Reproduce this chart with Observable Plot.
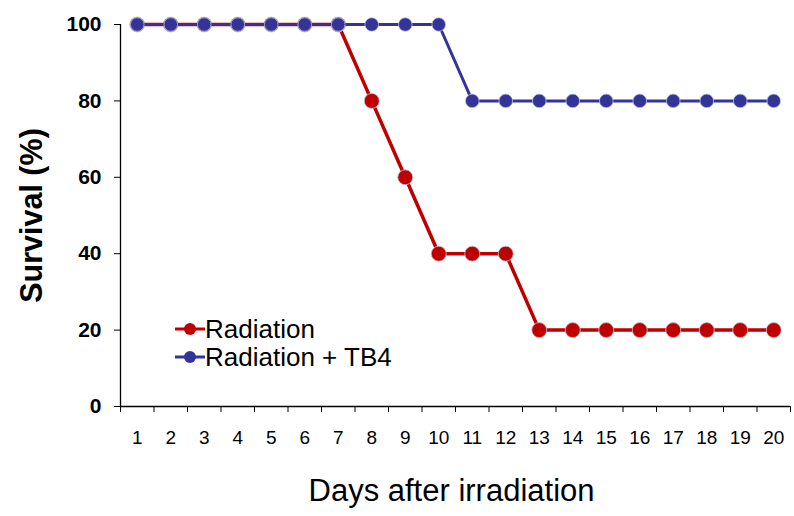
<!DOCTYPE html>
<html>
<head>
<meta charset="utf-8">
<script src="https://cdn.jsdelivr.net/npm/d3@7"></script>
<script src="https://cdn.jsdelivr.net/npm/@observablehq/plot@0.6"></script>
<style>
  html, body { margin: 0; padding: 0; background: #fff; }
  #wrap { position: relative; width: 794px; height: 516px; font-family: "Liberation Sans", Arial, sans-serif; }
  #legend { position: absolute; left: 174px; top: 315px; font-size: 26px; color: #000; }
  .row { display: flex; align-items: center; height: 28px; }
  .row svg { margin-right: 0px; }
</style>
</head>
<body>
<div id="wrap"></div>
<script>
const days = d3.range(1, 21);
const radiation = [100,100,100,100,100,100,100,80,60,40,40,40,20,20,20,20,20,20,20,20];
const radiationTB4 = [100,100,100,100,100,100,100,100,100,100,80,80,80,80,80,80,80,80,80,80];
const yTicks = [0, 20, 40, 60, 80, 100];
const seriesNames = ["Radiation", "Radiation + TB4"];
const colors = ["#C00000", "#333399"];

const red = days.map((d, i) => ({day: d, value: radiation[i]}));
const blue = days.map((d, i) => ({day: d, value: radiationTB4[i]}));

const font = "Liberation Sans, Arial, sans-serif";

const chart = Plot.plot({
  width: 794,
  height: 516,
  marginLeft: 120,
  marginRight: 4,
  marginTop: 24,
  marginBottom: 110,
  style: {fontFamily: font, background: "#fff", color: "#000"},
  x: {domain: [0.5, 20.5]},
  y: {domain: [0, 100]},
  marks: [
    Plot.axisY({ticks: yTicks, tickSize: 6, tickPadding: 13, fontSize: 21, fontWeight: "bold", label: null, tickFormat: d => d}),
    Plot.axisX({ticks: d3.range(0.5, 21, 1), tickSize: 6, tickFormat: () => "", label: null}),
    Plot.axisX({ticks: days, tickSize: 0, tickPadding: 24, fontSize: 19, label: null, tickFormat: d => d}),
    Plot.ruleX([0.5], {y1: 0, y2: 100, stroke: "#000", strokeWidth: 1.3}),
    Plot.ruleY([0], {stroke: "#000", strokeWidth: 1.3}),
    Plot.line(red, {x: "day", y: "value", stroke: colors[0], strokeWidth: 3.5}),
    Plot.dot(red, {x: "day", y: "value", r: 7.5, fill: colors[0], stroke: "#b8c8d4", strokeWidth: 0.8}),
    Plot.line(blue, {x: "day", y: "value", stroke: colors[1], strokeWidth: 3}),
    Plot.dot(blue, {x: "day", y: "value", r: 6.8, fill: colors[1], stroke: "#b8c8d4", strokeWidth: 0.8}),
    Plot.text(["Survival (%)"], {frameAnchor: "left", textAnchor: "middle", lineAnchor: "middle", dx: -88, dy: 0, rotate: -90, fontSize: 30.5, fontWeight: "bold", fill: "#000"}),
    Plot.text(["Days after irradiation"], {frameAnchor: "bottom", textAnchor: "middle", lineAnchor: "middle", dy: 85, dx: -4, fontSize: 31, fill: "#000"})
  ]
});

const wrap = document.getElementById("wrap");
wrap.appendChild(chart);

const legend = document.createElement("div");
legend.id = "legend";
seriesNames.forEach((name, i) => {
  const row = document.createElement("div");
  row.className = "row";
  row.innerHTML = `<svg width="31" height="16"><line x1="1" y1="8" x2="31" y2="8" stroke="${colors[i]}" stroke-width="3"/><circle cx="16" cy="8" r="6" fill="${colors[i]}"/></svg><span>${name}</span>`;
  legend.appendChild(row);
});
wrap.appendChild(legend);
</script>
</body>
</html>
